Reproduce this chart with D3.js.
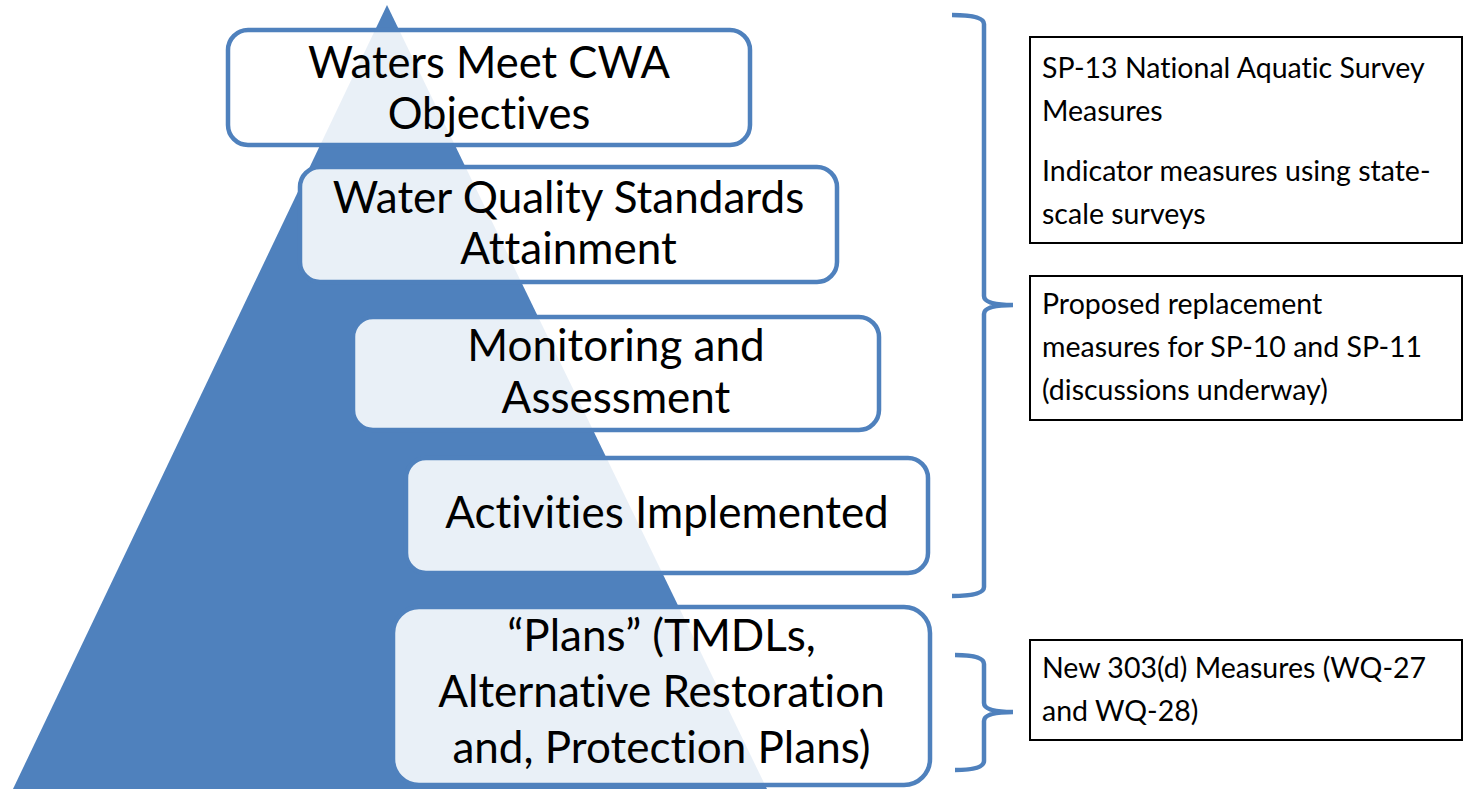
<!DOCTYPE html>
<html><head><meta charset="utf-8">
<script src="https://cdn.jsdelivr.net/npm/d3@7"></script>
<style>html,body{margin:0;padding:0;background:#fff;}svg{display:block;}text{font-variant-ligatures:none;font-feature-settings:"liga" 0,"clig" 0,"dlig" 0,"calt" 0;letter-spacing:0.01px;}</style>
</head><body>
<script>
// ---- data ----
const levels = [
  ["Waters Meet CWA", "Objectives"],
  ["Water Quality Standards", "Attainment"],
  ["Monitoring and", "Assessment"],
  ["Activities Implemented"],
  ["\u201cPlans\u201d (TMDLs,", "Alternative Restoration", "and, Protection Plans)"]
];
const notes = [
  [["SP-13 National Aquatic Survey", "Measures"], ["Indicator measures using state-", "scale surveys"]],
  [["Proposed replacement", "measures for SP-10 and SP-11", "(discussions underway)"]],
  [["New 303(d) Measures (WQ-27", "and WQ-28)"]]
];
// brace groups: which levels they span
const braceGroups = [[0, 3], [4, 4]];

// ---- layout ----
const W = 1466, H = 789;
const blue = "#4F81BD";
const font = "Lato, 'Open Sans', sans-serif";
const boxes = [
  {x0: 228, x1: 750, y0: 30, y1: 145, r: 20, fs: 43.5, lh: 51, base: 78},
  {x0: 300, x1: 837, y0: 167, y1: 282, r: 20, fs: 44, lh: 51, base: 213},
  {x0: 353, x1: 879, y0: 317, y1: 430, r: 20, fs: 44, lh: 52, base: 361},
  {x0: 406, x1: 928, y0: 458, y1: 573, r: 20, fs: 44, lh: 52, base: 528},
  {x0: 393, x1: 930, y0: 607, y1: 785, r: 26, fs: 44, lh: 56, base: 651}
];
const noteBoxes = [
  {x0: 1030, x1: 1462, y0: 37, y1: 243, base: [78, 121, 181, 224]},
  {x0: 1030, x1: 1462, y0: 276, y1: 420, base: [314, 357, 400]},
  {x0: 1030, x1: 1462, y0: 640, y1: 740, base: [678, 721]}
];
const braces = [
  {x0: 952, x1: 984, xt: 1013, y0: 15, ym: 305, y1: 596},
  {x0: 955, x1: 984, xt: 1013, y0: 655, ym: 712, y1: 770}
];

const svg = d3.select("body").append("svg").attr("width", W).attr("height", H);

// pyramid via linear scales
const yS = d3.scaleLinear().domain([0, 1]).range([5, 789]);
const xL = d3.scaleLinear().domain([0, 1]).range([387, 13]);
const xR = d3.scaleLinear().domain([0, 1]).range([387, 767]);
svg.append("path")
  .attr("d", d3.line()([[xL(0), yS(0)], [xR(1), yS(1)], [xL(1), yS(1)]]) + "Z")
  .attr("fill", blue);

// level boxes
const g = svg.selectAll("g.level").data(levels).join("g").attr("class", "level");
g.append("rect")
  .attr("x", (d, i) => boxes[i].x0).attr("y", (d, i) => boxes[i].y0)
  .attr("width", (d, i) => boxes[i].x1 - boxes[i].x0)
  .attr("height", (d, i) => boxes[i].y1 - boxes[i].y0)
  .attr("rx", (d, i) => boxes[i].r)
  .attr("fill", "#fff").attr("fill-opacity", 0.88)
  .attr("stroke", blue).attr("stroke-width", 4.5);
g.each(function(lines, i) {
  const b = boxes[i];
  const cx = (b.x0 + b.x1) / 2;
  d3.select(this).selectAll("text").data(lines).join("text")
    .attr("x", cx).attr("y", (t, j) => b.base + j * b.lh)
    .attr("text-anchor", "middle")
    .attr("font-family", font).attr("font-size", b.fs)
    .attr("fill", "#000").text(t => t);
});

// braces
const bracePath = b => {
  const r = 9;
  return `M${b.x0},${b.y0} Q${b.x1},${b.y0} ${b.x1},${b.y0 + r} L${b.x1},${b.ym - r} Q${b.x1},${b.ym} ${b.xt},${b.ym} Q${b.x1},${b.ym} ${b.x1},${b.ym + r} L${b.x1},${b.y1 - r} Q${b.x1},${b.y1} ${b.x0},${b.y1}`;
};
svg.selectAll("path.brace").data(braceGroups).join("path").attr("class", "brace")
  .attr("d", (d, i) => bracePath(braces[i]))
  .attr("fill", "none").attr("stroke", blue).attr("stroke-width", 4.5);

// note boxes
const ng = svg.selectAll("g.note").data(notes).join("g").attr("class", "note");
ng.append("rect")
  .attr("x", (d, i) => noteBoxes[i].x0).attr("y", (d, i) => noteBoxes[i].y0)
  .attr("width", (d, i) => noteBoxes[i].x1 - noteBoxes[i].x0)
  .attr("height", (d, i) => noteBoxes[i].y1 - noteBoxes[i].y0)
  .attr("fill", "#fff").attr("stroke", "#000").attr("stroke-width", 2);
ng.each(function(paras, i) {
  const b = noteBoxes[i];
  const lines = paras.flat();
  d3.select(this).selectAll("text").data(lines).join("text")
    .attr("x", b.x0 + 12).attr("y", (t, j) => b.base[j])
    .attr("font-family", font).attr("font-size", 28.5)
    .attr("fill", "#000").text(t => t);
});
</script>
</body></html>
